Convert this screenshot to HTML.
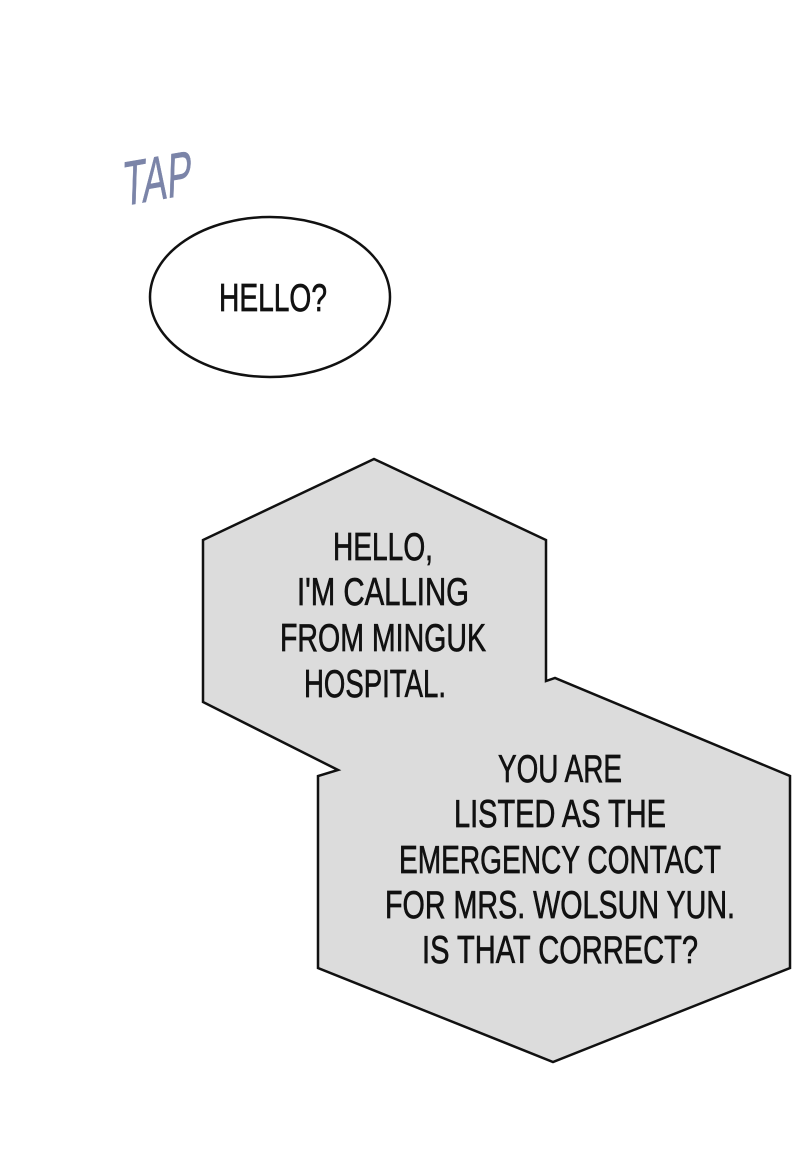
<!DOCTYPE html>
<html><head><style>
body{margin:0;background:#fff;}
svg{display:block}
text{font-family:"Liberation Sans",sans-serif;font-size:39px;fill:#111;stroke:#111;stroke-width:0.7;text-anchor:middle;}
</style></head><body>
<svg width="800" height="1155" viewBox="0 0 800 1155">
<rect width="800" height="1155" fill="#fff"/>
<g transform="translate(157,200) rotate(-10) skewX(-12)">
<text x="0" y="0" style="font-size:62px;fill:#7b84a8;stroke:#7b84a8;stroke-width:0.5" textLength="70" lengthAdjust="spacingAndGlyphs">TAP</text>
</g>
<ellipse cx="270" cy="297" rx="120" ry="80" fill="#fff" stroke="#111" stroke-width="2.5"/>
<text x="273" y="311" textLength="108" lengthAdjust="spacingAndGlyphs">HELLO?</text>
<polygon points="374,459 546,540 546,681 555,678 790,776 790,968 553,1062 318,968 318,776 338,770 203,702 203,540" fill="#dcdcdc" stroke="#111" stroke-width="2.5" stroke-linejoin="miter"/>
<text x="383" y="560" textLength="100" lengthAdjust="spacingAndGlyphs">HELLO,</text>
<text x="383" y="605" textLength="172" lengthAdjust="spacingAndGlyphs">I'M CALLING</text>
<text x="383" y="651" textLength="206" lengthAdjust="spacingAndGlyphs">FROM MINGUK</text>
<text x="375" y="697" textLength="142" lengthAdjust="spacingAndGlyphs">HOSPITAL.</text>
<text x="560" y="782" textLength="124" lengthAdjust="spacingAndGlyphs">YOU ARE</text>
<text x="560" y="827" textLength="212" lengthAdjust="spacingAndGlyphs">LISTED AS THE</text>
<text x="560" y="873" textLength="322" lengthAdjust="spacingAndGlyphs">EMERGENCY CONTACT</text>
<text x="560" y="918" textLength="350" lengthAdjust="spacingAndGlyphs">FOR MRS. WOLSUN YUN.</text>
<text x="560" y="963" textLength="276" lengthAdjust="spacingAndGlyphs">IS THAT CORRECT?</text>
</svg>
</body></html>
